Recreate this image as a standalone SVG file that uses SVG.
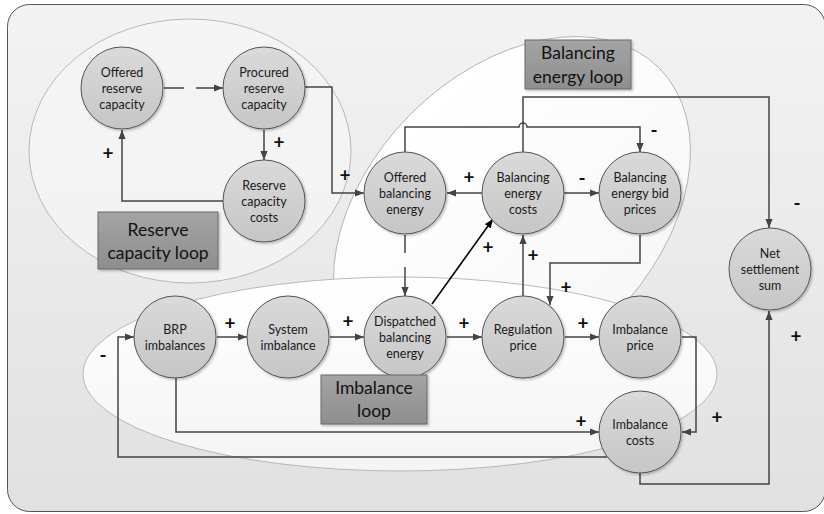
<svg xmlns="http://www.w3.org/2000/svg" width="824" height="514" viewBox="0 0 824 514">
  <defs>
    <linearGradient id="panelFill" x1="0" y1="0" x2="0" y2="1">
      <stop offset="0" stop-color="#f3f3f3"/>
      <stop offset="1" stop-color="#e1e1e1"/>
    </linearGradient>
    <linearGradient id="loopFillBright" x1="0" y1="0" x2="0" y2="1">
      <stop offset="0" stop-color="#ffffff"/>
      <stop offset="1" stop-color="#f8f8f8"/>
    </linearGradient>
    <linearGradient id="loopFillLow" x1="0" y1="0" x2="0" y2="1">
      <stop offset="0" stop-color="#ffffff"/>
      <stop offset="1" stop-color="#f4f4f4"/>
    </linearGradient>
    <linearGradient id="nodeFill" x1="0" y1="0" x2="0" y2="1">
      <stop offset="0" stop-color="#dadada"/>
      <stop offset="1" stop-color="#c6c6c6"/>
    </linearGradient>
    <linearGradient id="boxFill" x1="0" y1="0" x2="0" y2="1">
      <stop offset="0" stop-color="#a4a4a4"/>
      <stop offset="1" stop-color="#8e8e8e"/>
    </linearGradient>
    <filter id="shade" x="-20%" y="-20%" width="150%" height="150%">
      <feDropShadow dx="1.5" dy="1.5" stdDeviation="1.2" flood-color="#000" flood-opacity="0.25"/>
    </filter>
    <marker id="arrow" viewBox="0 0 10 8" refX="10" refY="4" markerWidth="9" markerHeight="8" markerUnits="userSpaceOnUse" orient="auto">
      <path d="M0,0 L10,4 L0,8 z" fill="#444"/>
    </marker>
    <marker id="arrowBlack" viewBox="0 0 10 8" refX="10" refY="4" markerWidth="9" markerHeight="8" markerUnits="userSpaceOnUse" orient="auto">
      <path d="M0,0 L10,4 L0,8 z" fill="#000"/>
    </marker>
  </defs>
  <style>
    .node circle { fill: url(#nodeFill); stroke: #555; stroke-width: 1; filter: url(#shade); }
    .node text { font-family: Lato, "Open Sans", sans-serif; font-size: 12.5px; fill: #1a1a1a; text-anchor: middle; }
    .box rect { fill: url(#boxFill); stroke: #6a6a6a; stroke-width: 1; filter: url(#shade); }
    .box text { font-family: Lato, "Open Sans", sans-serif; font-size: 17.5px; fill: #111; text-anchor: middle; }
    .loop { stroke: #a8a8a8; stroke-width: 0.8; }
    .link { fill: none; stroke: #444; stroke-width: 1.5; marker-end: url(#arrow); }
    .sign { font-family: Lato, "Open Sans", sans-serif; font-size: 19px; font-weight: bold; fill: #111; text-anchor: middle; }
  </style>

  <!-- background panel -->
  <rect x="7.5" y="4.5" width="818" height="507" rx="22" fill="url(#panelFill)" stroke="#555" stroke-width="1"/>

  <!-- loop regions -->
  <g id="loops">
    <ellipse class="loop" cx="190" cy="151" rx="161" ry="132" fill="#f5f5f5" fill-opacity="0.8"/>
    <ellipse class="loop" cx="512" cy="215" rx="208" ry="143" transform="rotate(-45 512 215)" fill="url(#loopFillBright)"/>
    <ellipse class="loop" cx="400" cy="374" rx="317" ry="97" fill="url(#loopFillLow)"/>
  </g>

  <!-- connectors -->
  <g id="connectors">
    <path class="link" d="M164,88 H223" stroke-dasharray="20,12,80"/>
    <path class="link" d="M264,130 V160"/>
    <path class="link" d="M223,201 H122 V130"/>
    <path class="link" d="M305,87 H332 V193 H364"/>
    <path class="link" d="M482,193 H447"/>
    <path class="link" d="M564,193 H599"/>
    <path class="link" d="M405,152 V127 H519 A4,4 0 0 1 527,127 H640 V152"/>
    <path class="link" d="M523,152 V97 H769 V228"/>
    <path class="link" d="M405,235 V296" stroke-dasharray="18,14,80"/>
    <path d="M432,304 L493,219" fill="none" stroke="#000" stroke-width="1.6" marker-end="url(#arrowBlack)"/>
    <path class="link" d="M523,296 V235"/>
    <path class="link" d="M640,235 V263 H550 V305"/>
    <path class="link" d="M217,337 H247"/>
    <path class="link" d="M330,337 H364"/>
    <path class="link" d="M447,337 H482"/>
    <path class="link" d="M565,337 H599"/>
    <path class="link" d="M682,337 H696 V432 H682"/>
    <path class="link" d="M176,378 V432 H599"/>
    <path class="link" d="M607,457 H118 V337 H134"/>
    <path class="link" d="M640,473 V484 H769 V311"/>
  </g>

  <!-- polarity signs -->
  <g id="signs">
    <text class="sign" x="279" y="148.5">+</text>
    <text class="sign" x="108" y="159.5">+</text>
    <text class="sign" x="345" y="181.5">+</text>
    <text class="sign" x="469" y="183.5">+</text>
    <text class="sign" x="582" y="184.5">-</text>
    <text class="sign" x="654" y="136.5">-</text>
    <text class="sign" x="797" y="209.5">-</text>
    <text class="sign" x="488" y="253.5">+</text>
    <text class="sign" x="533" y="261.5">+</text>
    <text class="sign" x="566" y="293.5">+</text>
    <text class="sign" x="230" y="329.5">+</text>
    <text class="sign" x="348" y="327.5">+</text>
    <text class="sign" x="464" y="329.5">+</text>
    <text class="sign" x="583" y="329.5">+</text>
    <text class="sign" x="103" y="361.5">-</text>
    <text class="sign" x="581" y="427.5">+</text>
    <text class="sign" x="717" y="423.5">+</text>
    <text class="sign" x="796" y="342.5">+</text>
  </g>

  <!-- nodes -->
  <g id="offered-reserve-capacity" class="node">
    <circle cx="122" cy="88" r="41"/>
    <text x="122" y="76.5">Offered</text>
    <text x="122" y="92.5">reserve</text>
    <text x="122" y="108.5">capacity</text>
  </g>
  <g id="procured-reserve-capacity" class="node">
    <circle cx="264" cy="88" r="41"/>
    <text x="264" y="76.5">Procured</text>
    <text x="264" y="92.5">reserve</text>
    <text x="264" y="108.5">capacity</text>
  </g>
  <g id="reserve-capacity-costs" class="node">
    <circle cx="264" cy="201" r="41"/>
    <text x="264" y="189.5">Reserve</text>
    <text x="264" y="205.5">capacity</text>
    <text x="264" y="221.5">costs</text>
  </g>
  <g id="offered-balancing-energy" class="node">
    <circle cx="405" cy="193" r="41"/>
    <text x="405" y="181.5">Offered</text>
    <text x="405" y="197.5">balancing</text>
    <text x="405" y="213.5">energy</text>
  </g>
  <g id="balancing-energy-costs" class="node">
    <circle cx="523" cy="193" r="41"/>
    <text x="523" y="181.5">Balancing</text>
    <text x="523" y="197.5">energy</text>
    <text x="523" y="213.5">costs</text>
  </g>
  <g id="balancing-energy-bid-prices" class="node">
    <circle cx="640" cy="193" r="41"/>
    <text x="640" y="181.5">Balancing</text>
    <text x="640" y="197.5">energy bid</text>
    <text x="640" y="213.5">prices</text>
  </g>
  <g id="net-settlement-sum" class="node">
    <circle cx="770" cy="269" r="41"/>
    <text x="770" y="257.5">Net</text>
    <text x="770" y="273.5">settlement</text>
    <text x="770" y="289.5">sum</text>
  </g>
  <g id="brp-imbalances" class="node">
    <circle cx="175" cy="337" r="41"/>
    <text x="175" y="333.5">BRP</text>
    <text x="175" y="349.5">imbalances</text>
  </g>
  <g id="system-imbalance" class="node">
    <circle cx="288" cy="337" r="41"/>
    <text x="288" y="333.5">System</text>
    <text x="288" y="349.5">imbalance</text>
  </g>
  <g id="dispatched-balancing-energy" class="node">
    <circle cx="405" cy="337" r="41"/>
    <text x="405" y="325.5">Dispatched</text>
    <text x="405" y="341.5">balancing</text>
    <text x="405" y="357.5">energy</text>
  </g>
  <g id="regulation-price" class="node">
    <circle cx="523" cy="337" r="41"/>
    <text x="523" y="333.5">Regulation</text>
    <text x="523" y="349.5">price</text>
  </g>
  <g id="imbalance-price" class="node">
    <circle cx="640" cy="337" r="41"/>
    <text x="640" y="333.5">Imbalance</text>
    <text x="640" y="349.5">price</text>
  </g>
  <g id="imbalance-costs" class="node">
    <circle cx="640" cy="432" r="41"/>
    <text x="640" y="428.5">Imbalance</text>
    <text x="640" y="444.5">costs</text>
  </g>

  <!-- loop labels -->
  <g id="reserve-capacity-loop" class="box">
    <rect x="98" y="212" width="120" height="57"/>
    <text x="158" y="236">Reserve</text>
    <text x="158" y="259">capacity loop</text>
  </g>
  <g id="balancing-energy-loop" class="box">
    <rect x="525" y="40" width="106" height="49"/>
    <text x="578" y="59">Balancing</text>
    <text x="578" y="83">energy loop</text>
  </g>
  <g id="imbalance-loop" class="box">
    <rect x="321" y="375" width="106" height="49"/>
    <text x="374" y="394">Imbalance</text>
    <text x="374" y="417">loop</text>
  </g>
</svg>
